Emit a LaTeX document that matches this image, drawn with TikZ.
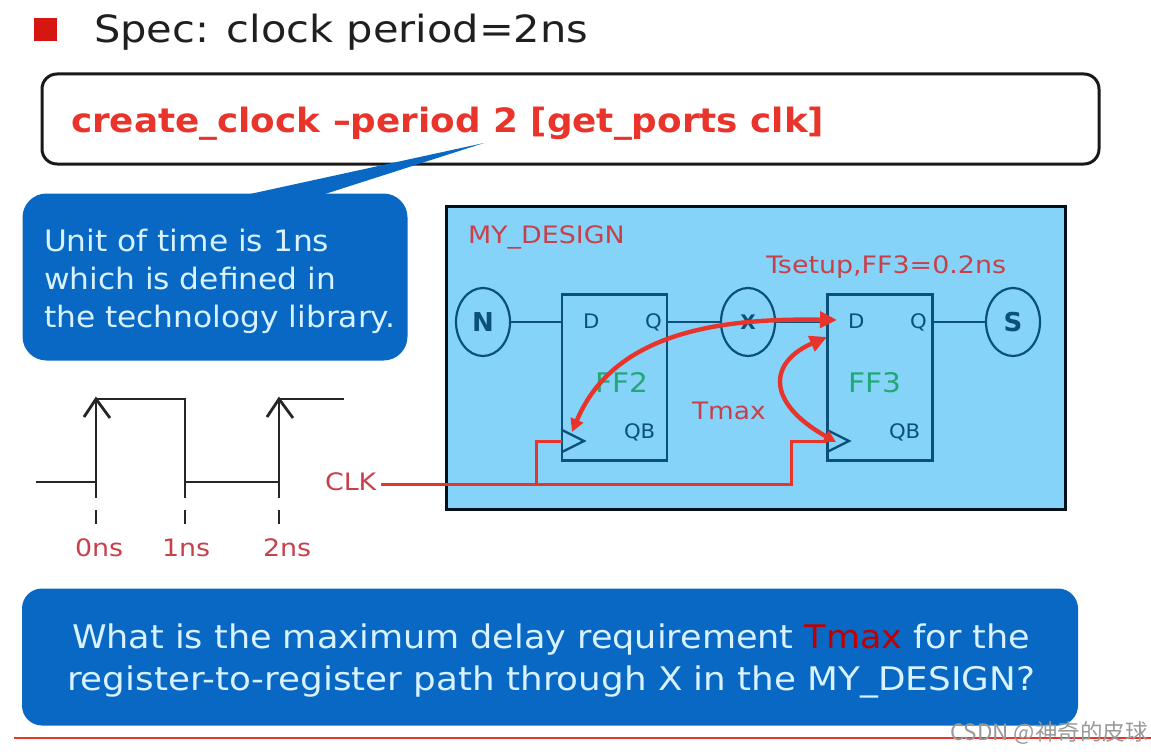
\documentclass[tikz,border=0pt]{standalone}
\usepackage{fontspec}
\setmainfont{DejaVu Sans}
\newfontfamily\cjkwm{Noto Sans CJK SC}
\usetikzlibrary{shapes.geometric,arrows.meta}
\definecolor{bluebox}{HTML}{0868C4}
\definecolor{paneblue}{HTML}{85D3F8}
\definecolor{inkblue}{HTML}{0A5078}
\definecolor{redline}{HTML}{E8342A}
\definecolor{labelred}{HTML}{C8404A}
\definecolor{ffgreen}{HTML}{22A878}
\definecolor{lighttext}{HTML}{D8F2FF}
\newcommand{\wf}[2]{\fontsize{#1}{#1}\selectfont\addfontfeatures{FakeStretch=#2}}
\tikzset{
  txt/.style={inner sep=0pt,outer sep=0pt,anchor=base west},
  ffbox/.style={draw=inkblue,line width=2.6pt,inner sep=0pt,minimum width=105pt,minimum height=166pt},
  port/.style={ellipse,draw=inkblue,line width=2.2pt,inner sep=0pt,minimum width=54pt,minimum height=68pt,text=inkblue},
  wire/.style={draw=inkblue,line width=2.6pt},
  clkwire/.style={draw=redline,line width=3pt},
  timing/.style={draw=redline,line width=4.4pt},
  pulse/.style={draw=black!85,line width=2.8pt},
  pin/.style={txt,font=\wf{20}{1.06},text=inkblue},
  redlab/.style={txt,font=\wf{24}{1.12},text=labelred},
  clocktri/.style={draw=inkblue,line width=2.4pt},
}
\begin{document}
\begin{tikzpicture}[x=1pt,y=-1pt]
\useasboundingbox (0,0) rectangle (1151,752);
% title
\node[fill={rgb,255:red,214;green,22;blue,16},minimum size=23pt,inner sep=0pt] (bullet) at (45,30) {};
\node[txt,font=\wf{37.5}{1.108},text=black!88] (title) at (94,43) {Spec: clock period=2ns};
% command box
\node[draw=black!90,line width=3pt,rounded corners=15pt,fill=white,minimum width=1057pt,minimum height=90pt,inner sep=0pt] (cmdbox) at (570.5,119) {};
\node[txt,font=\bfseries\wf{33.5}{1.068},text=redline] (cmd) at (71,132) {create\_clock –period 2 [get\_ports clk]};
% callout
\node[fill=bluebox,rounded corners=24pt,minimum width=385pt,minimum height=167pt,inner sep=0pt] (note) at (215,277) {};
\coordinate (tipA) at (250,194);
\coordinate (tipB) at (484,143);
\coordinate (tipC) at (325,194);
\fill[bluebox] (tipA) -- (tipB) -- (tipC) -- cycle;
\node[txt,font=\wf{29.5}{1.06},text=lighttext] (n1) at (44,251) {Unit of time is 1ns};
\node[txt,font=\wf{29.5}{1.06},text=lighttext] (n2) at (44,289) {which is defined in};
\node[txt,font=\wf{29.5}{1.06},text=lighttext] (n3) at (44,327) {the technology library.};
% design pane
\node[draw=black!80!inkblue,line width=3pt,fill=paneblue,minimum width=619pt,minimum height=303pt,inner sep=0pt] (pane) at (755.5,358) {};
\node[redlab] (mydesign) at (468,243) {MY\_DESIGN};
\node[redlab] (tsetup) at (766,273) {Tsetup,FF3=0.2ns};
\node[ffbox] (ff2) at (614.5,377.5) {};
\node[ffbox] (ff3) at (880,377.5) {};
\node[port,font=\bfseries\fontsize{26}{26}\selectfont] (nN) at (483,322) {N};
\node[port,font=\bfseries\fontsize{20}{20}\selectfont] (nX) at (748,322) {X};
\node[port,font=\bfseries\fontsize{26}{26}\selectfont] (nS) at (1013,322) {S};
\node[pin] (d2) at (583,328) {D};
\node[pin] (q2) at (645,328) {Q};
\node[pin] (qb2) at (624,438) {QB};
\node[pin] (d3) at (848,328) {D};
\node[pin] (q3) at (910,328) {Q};
\node[pin] (qb3) at (889,438) {QB};
\node[txt,font=\wf{27}{1.1},text=ffgreen] (f2) at (595,392) {FF2};
\node[txt,font=\wf{27}{1.1},text=ffgreen] (f3) at (848,392) {FF3};
\node[txt,font=\wf{24}{1.1},text=labelred] (tmax) at (692,419) {Tmax};
% wires
\draw[wire] (nN.east) -- (ff2.west |- nN.east);
\draw[wire] (ff2.east |- nX.west) -- (nX.west);
\draw[wire] (nX.east) -- (ff3.west |- nX.east);
\draw[wire] (ff3.east |- nS.west) -- (nS.west);
% clock triangles
\coordinate (ck2) at (562,441);
\coordinate (ck3) at (827,441);
\draw[clocktri] (562,430) -- (584,441) -- (562,452);
\draw[clocktri] (827,430) -- (849,441) -- (827,452);
% clock input
\node[redlab] (clk) at (325,490) {CLK};
\coordinate (branch) at (536,484);
\coordinate (turn) at (791,484);
\draw[clkwire] (clk.east |- branch) ++(5,0) -- (branch) -- (turn) |- (ck3);
\draw[clkwire] (branch) |- (ck2);
% timing arcs
\coordinate (a1) at (572,432);
\coordinate (a2) at (837,320);
\coordinate (a3) at (836,442);
\coordinate (a4) at (827,337);
\draw[timing,{Triangle[length=13pt,width=13pt]}-{Triangle[length=17pt,width=16pt]}] (a1) .. controls (614,332) and (720,318) .. (a2);
\draw[timing,{Triangle[length=12pt,width=12pt]}-{Triangle[length=17pt,width=16pt]}] (a3) .. controls (765,402) and (769,362) .. (a4);
% clock wave
\coordinate (w0) at (36,482);
\coordinate (r1l) at (96,482);
\coordinate (r1h) at (96,399);
\coordinate (f1h) at (185,399);
\coordinate (f1l) at (185,482);
\coordinate (r2l) at (279,482);
\coordinate (r2h) at (279,399);
\coordinate (wend) at (344,399);
\draw[pulse] (w0) -- (r1l) -- (r1h) -- (f1h) -- (f1l) -- (r2l) -- (r2h) -- (wend);
\draw[pulse] (84,417) -- (r1h) -- (110,418);
\draw[pulse] (267,417) -- (r2h) -- (293,418);
\draw[pulse] (r1l) -- (96,498);
\draw[pulse] (f1l) -- (185,498);
\draw[pulse] (r2l) -- (279,498);
\draw[pulse] (96,510) -- (96,524);
\draw[pulse] (185,510) -- (185,524);
\draw[pulse] (279,510) -- (279,524);
\node[redlab] (t0) at (75,556) {0ns};
\node[redlab] (t1) at (162,556) {1ns};
\node[redlab] (t2) at (263,556) {2ns};
% question
\node[fill=bluebox,rounded corners=20pt,minimum width=1056pt,minimum height=137pt,inner sep=0pt] (question) at (550,657) {};
\node[txt,font=\wf{32.5}{1.078},text=lighttext] (q1) at (72,648) {What is the maximum delay requirement \textcolor{red!75!black}{Tmax} for the};
\node[txt,font=\wf{32.5}{1.099},text=lighttext] (q2t) at (67,690) {register-to-register path through X in the MY\_DESIGN?};
% rule
\coordinate (ruleL) at (14,738);
\coordinate (ruleR) at (1151,738);
\draw[draw=redline,line width=1.4pt] (ruleL) -- (ruleR);
% watermark
\node[txt,font=\cjkwm\fontsize{22.5}{22.5}\selectfont,text=black!40] (wm) at (950,740) {CSDN @神奇的皮球};
\end{tikzpicture}
\end{document}
